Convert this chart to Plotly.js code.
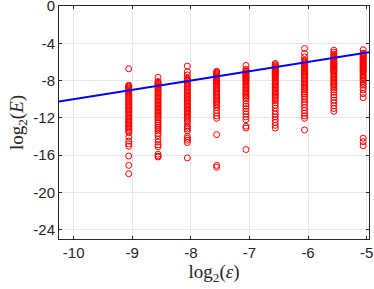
<!DOCTYPE html>
<html><head><meta charset="utf-8">
<script src="https://cdn.plot.ly/plotly-3.0.1.min.js"></script>
<style>html,body{margin:0;padding:0;background:#fff}#chart{width:374px;height:289px}</style>
</head><body><div id="chart"></div>
<script>
// x positions (log2 eps) of each column
var colX = [-9.06, -8.56, -8.06, -7.56, -7.06, -6.56, -6.06, -5.56, -5.06];
// log2(E) values per column
var col1 = [-6.74, -8.5, -8.6, -8.7, -8.8, -8.9, -9.0, -9.1, -9.2, -9.35, -9.5, -9.6, -9.75, -9.9, -10.0, -10.15, -10.3, -10.45, -10.6, -10.7, -10.85, -11.0, -11.15, -11.3, -11.45, -11.6, -11.75, -11.9, -12.05, -12.2, -12.35, -12.5, -12.65, -12.8, -12.95, -13.1, -13.25, -13.4, -13.6, -14.05, -14.5, -14.8, -15.05, -16.1, -17.1, -18.0];
var col2 = [-7.66, -8.1, -8.2, -8.3, -8.4, -8.5, -8.62, -8.75, -8.9, -9.05, -9.2, -9.3, -9.45, -9.6, -9.75, -9.9, -10.05, -10.2, -10.35, -10.5, -10.65, -10.8, -10.95, -11.1, -11.25, -11.4, -11.55, -11.7, -11.85, -12.0, -12.2, -12.4, -12.6, -12.8, -13.0, -13.2, -13.4, -13.65, -13.9, -14.3, -14.6, -14.9, -15.1, -15.9, -16.1, -16.2];
var col3 = [-6.45, -7.05, -7.4, -7.75, -7.85, -7.95, -8.05, -8.2, -8.35, -8.5, -8.65, -8.8, -8.95, -9.1, -9.25, -9.4, -9.55, -9.7, -9.85, -10.0, -10.15, -10.3, -10.45, -10.6, -10.75, -10.9, -11.05, -11.2, -11.35, -11.5, -11.65, -11.8, -11.95, -12.1, -12.3, -12.5, -12.85, -13.0, -13.2, -13.4, -14.0, -14.2, -14.4, -14.65, -16.3];
var col4 = [-7.0, -7.1, -7.2, -7.3, -7.4, -7.5, -7.6, -7.7, -7.8, -7.9, -8.0, -8.1, -8.2, -8.3, -8.45, -8.6, -8.75, -8.9, -9.05, -9.2, -9.35, -9.5, -9.65, -9.8, -9.95, -10.1, -10.25, -10.4, -10.55, -10.7, -10.9, -11.2, -11.5, -11.8, -12.05, -13.8, -17.1, -17.3];
var col5 = [-6.38, -6.8, -6.95, -7.05, -7.15, -7.25, -7.35, -7.45, -7.55, -7.65, -7.75, -7.85, -7.95, -8.05, -8.15, -8.3, -8.45, -8.6, -8.75, -8.9, -9.05, -9.2, -9.35, -9.5, -9.65, -9.8, -9.95, -10.2, -10.5, -10.75, -11.0, -11.3, -11.6, -11.9, -12.2, -12.9, -13.1, -15.4];
var col6 = [-6.16, -6.3, -6.4, -6.5, -6.6, -6.7, -6.8, -6.9, -7.0, -7.1, -7.2, -7.3, -7.4, -7.5, -7.6, -7.7, -7.85, -8.0, -8.15, -8.3, -8.45, -8.6, -8.75, -8.9, -9.05, -9.2, -9.35, -9.5, -9.65, -9.8, -9.95, -10.15, -10.4, -10.65, -10.95, -11.3, -11.6, -11.9, -12.2, -12.5, -12.8, -13.1];
var col7 = [-4.56, -5.1, -5.45, -5.8, -5.9, -6.0, -6.1, -6.2, -6.3, -6.4, -6.5, -6.6, -6.7, -6.8, -6.9, -7.0, -7.1, -7.2, -7.35, -7.5, -7.65, -7.8, -7.95, -8.1, -8.25, -8.4, -8.55, -8.7, -8.85, -9.0, -9.2, -9.4, -9.6, -9.8, -10.0, -10.3, -10.6, -10.9, -11.2, -11.5, -11.8, -12.05, -13.3];
var col8 = [-4.74, -4.95, -5.15, -5.3, -5.4, -5.5, -5.6, -5.7, -5.8, -5.9, -6.0, -6.1, -6.2, -6.3, -6.4, -6.5, -6.6, -6.7, -6.8, -6.9, -7.0, -7.1, -7.25, -7.4, -7.55, -7.7, -7.85, -8.0, -8.15, -8.3, -8.45, -8.6, -8.8, -9.0, -9.25, -9.55, -9.8, -10.1, -10.4, -10.7, -11.0, -11.3];
var col9 = [-4.7, -5.05, -5.15, -5.25, -5.35, -5.45, -5.55, -5.65, -5.75, -5.85, -5.95, -6.05, -6.15, -6.25, -6.35, -6.45, -6.55, -6.65, -6.75, -6.85, -6.95, -7.05, -7.2, -7.35, -7.5, -7.65, -7.8, -7.95, -8.1, -8.3, -8.5, -8.75, -9.0, -9.4, -9.84, -14.18, -14.55, -15.0];
var cols = [col1, col2, col3, col4, col5, col6, col7, col8, col9];
// reference line log2(E) = log2(eps)
var refX = [-10.25, -4.96];
var refY = [-10.25, -4.96];
var xTicks = [-10, -9, -8, -7, -6, -5];
var yTicks = [0, -4, -8, -12, -16, -20, -24];

var px = [], py = [];
cols.forEach(function(c, i){ c.forEach(function(v){ px.push(colX[i]); py.push(v); }); });

var traces = [
  {x: px, y: py, type: 'scatter', mode: 'markers', cliponaxis: false,
   marker: {symbol: 'circle-open', size: 6, color: '#ff0000', line: {width: 1, color: '#ff0000'}},
   hoverinfo: 'skip'},
  {x: refX, y: refY, type: 'scatter', mode: 'lines',
   line: {color: '#0000ff', width: 2}, hoverinfo: 'skip'}
];

var axisCommon = {
  showline: true, linecolor: '#262626', linewidth: 1, mirror: 'allticks',
  ticks: 'inside', ticklen: 3, tickcolor: '#262626',
  showgrid: true, gridcolor: '#e6e6e6', gridwidth: 1, zeroline: false,
  ticklabeloverflow: 'allow',
  tickfont: {family: 'Liberation Sans, Arial, sans-serif', size: 15, color: '#262626'}
};

var layout = {
  width: 374, height: 289,
  margin: {l: 59, r: 5, t: 6, b: 50},
  showlegend: false,
  paper_bgcolor: '#fff', plot_bgcolor: '#fff',
  xaxis: Object.assign({}, axisCommon, {
    range: [-10.25, -4.96], tickvals: xTicks, ticktext: xTicks.map(String),
    title: {text: 'log<sub>2</sub>(<i>ε</i>)', font: {family: 'Liberation Serif, DejaVu Serif, serif', size: 19, color: '#262626'}, standoff: 4}
  }),
  yaxis: Object.assign({}, axisCommon, {
    range: [-25, 0], tickvals: yTicks, ticktext: yTicks.map(String),
    title: {text: 'log<sub>2</sub>(<i>E</i>)', font: {family: 'Liberation Serif, DejaVu Serif, serif', size: 19, color: '#262626'}, standoff: 4}
  })
};

Plotly.newPlot('chart', traces, layout, {staticPlot: true, displayModeBar: false});
</script>
</body></html>
